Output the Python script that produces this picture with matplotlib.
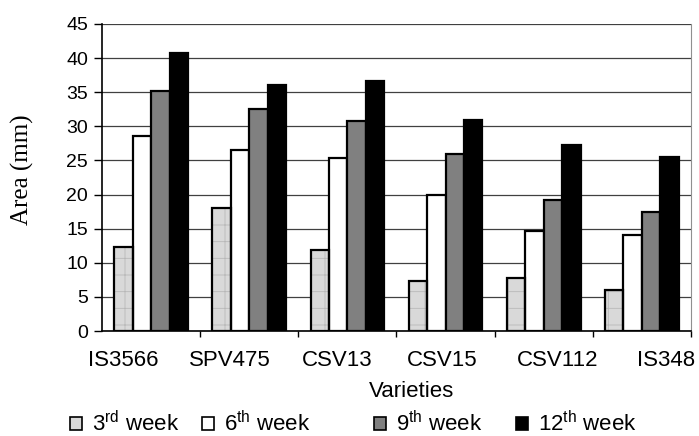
import numpy as np
import matplotlib
matplotlib.use("Agg")
import matplotlib.pyplot as plt
from matplotlib.patches import Patch

plt.rcParams["font.family"] = ["Liberation Sans", "DejaVu Sans"]
plt.rcParams["mathtext.fontset"] = "custom"
plt.rcParams["mathtext.rm"] = "Liberation Sans"
plt.rcParams["hatch.linewidth"] = 0.6

# ---- data ----
varieties = ["IS3566", "SPV475", "CSV13", "CSV15", "CSV112", "IS348"]
week3 = [12.3, 18.0, 11.8, 7.3, 7.8, 6.0]
week6 = [28.6, 26.5, 25.4, 20.0, 14.7, 14.0]
week9 = [35.2, 32.6, 30.8, 26.0, 19.2, 17.4]
week12 = [40.8, 36.1, 36.6, 31.0, 27.3, 25.5]
series_labels = ["3$^{\\rm rd}$ week", "6$^{\\rm th}$ week", "9$^{\\rm th}$ week", "12$^{\\rm th}$ week"]
yticks = [0, 5, 10, 15, 20, 25, 30, 35, 40, 45]

W, H = 699, 436
fig = plt.figure(figsize=(W / 100, H / 100), dpi=100)
ax = fig.add_axes([102 / W, 105 / H, 589 / W, 307 / H])

x = np.arange(len(varieties))
w = 0.188
colors = ["#d9d9d9", "white", "#808080", "black"]
series = [week3, week6, week9, week12]
for i, (vals, c) in enumerate(zip(series, colors)):
    pos = x + (i - 1.5) * w
    if i == 0:
        # light hatched fill, black outline drawn on top
        ax.bar(pos, vals, w, color=c, edgecolor="#b8b8b8", hatch="+", lw=0, zorder=3)
        ax.bar(pos, vals, w, facecolor="none", edgecolor="black", lw=1.6, zorder=4)
    else:
        ax.bar(pos, vals, w, color=c, edgecolor="black", lw=1.6, zorder=3)

ax.set_xlim(-0.5, len(varieties) - 0.5)
ax.set_ylim(0, 45)
ax.set_yticks(yticks)
ax.yaxis.grid(True, color="#404040", lw=0.9, zorder=0)
ax.set_axisbelow(True)

# ticks sit on group boundaries; labels spread evenly like the original
ax.set_xticks(np.arange(0.5, len(varieties), 1.0))
ax.set_xticklabels([])
label_px = [123, 230, 337, 442, 558, 666]
for px, name in zip(label_px, varieties):
    ax.text((px - 102) / 589, -0.096, name, ha="center", va="center",
            fontsize=16, transform=ax.transAxes)

ax.tick_params(axis="x", direction="out", length=4.5, width=1)
ax.tick_params(axis="y", direction="out", length=6, width=1, labelsize=14, pad=4)

ax.spines["top"].set_visible(False)
ax.spines["right"].set_color("#909090")
ax.spines["left"].set_linewidth(1.2)
ax.spines["bottom"].set_linewidth(1.2)

fig.text(22 / W, 1 - 170 / H, "Area (mm)", family=["Liberation Serif"], fontsize=18,
         rotation=90, ha="center", va="center")
fig.text(412 / W, 1 - 391 / H, "Varieties", ha="center", va="center", fontsize=16)

# legend items placed one by one (uneven gaps in the original)
leg_x = [70, 202, 374, 516]
for lx, c, lab in zip(leg_x, colors, series_labels):
    h = Patch(facecolor=c, edgecolor="black", lw=1.2)
    lg = fig.legend([h], [lab], loc="center left", bbox_to_anchor=(lx / W, 1 - 424 / H),
                    frameon=False, fontsize=16, handlelength=0.55, handleheight=0.55,
                    handletextpad=0.45, borderpad=0, borderaxespad=0)

fig.savefig("out.png", dpi=100)
